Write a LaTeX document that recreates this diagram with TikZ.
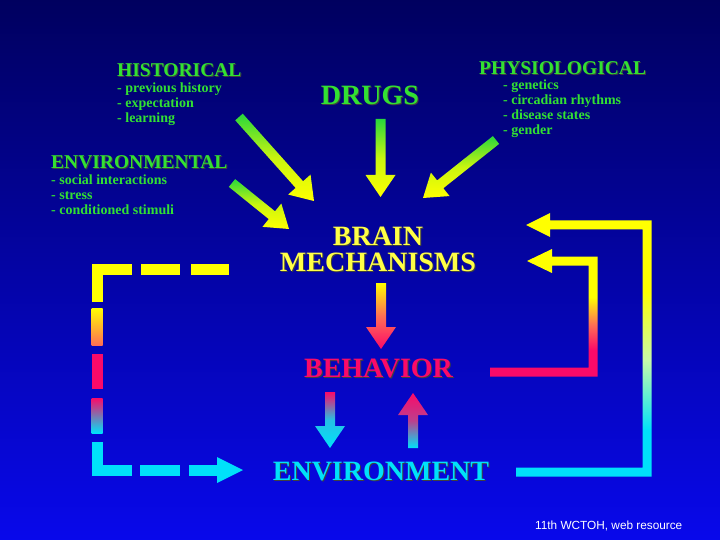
\documentclass[tikz,border=0pt]{standalone}
\usepackage{fontspec}
\setmainfont{Liberation Serif}
\newfontfamily\capfont{Liberation Sans}
\usetikzlibrary{positioning, calc}

\definecolor{bgtop}{RGB}{0,0,95}
\definecolor{bgmid}{RGB}{0,0,205}
\definecolor{bgbot}{RGB}{8,8,235}
\definecolor{txtgreen}{RGB}{50,225,50}
\definecolor{arrgreen}{RGB}{40,215,60}
\definecolor{arryellow}{RGB}{255,255,0}
\definecolor{brainyellow}{RGB}{255,255,70}
\definecolor{hotpink}{RGB}{250,10,105}
\definecolor{envcyan}{RGB}{0,225,250}
\definecolor{paleyel}{RGB}{200,250,170}
\definecolor{warmpink}{RGB}{255,110,85}

% loop shadings (path box = 25bp..75bp)
\pgfdeclareverticalshading{innerloop}{100bp}{color(0bp)=(hotpink);
  color(35.4bp)=(hotpink); color(45.2bp)=(warmpink);
  color(56.2bp)=(arryellow); color(100bp)=(arryellow)}
\pgfdeclareverticalshading{outerloop}{100bp}{color(0bp)=(envcyan);
  color(33.8bp)=(envcyan); color(47.1bp)=(paleyel);
  color(60.2bp)=(arryellow); color(100bp)=(arryellow)}

\newcommand\shd[1]{\makebox[0pt][l]{\color{black!75}\raisebox{-1pt}{\kern1pt #1}}#1}
\newcommand\itemlist[1]{\begin{tabular}[t]{@{}l@{}}#1\end{tabular}}
\newcommand\itemmid[1]{\begin{tabular}[t]{@{}c@{}}#1\end{tabular}}
\newcommand\fatarrow[3]{%
  \coordinate (fa-h) at ($(#3)!22pt!(#2)$);%
  \shade[#1] ($(#2)!5pt!90:(#3)$) -- ($(fa-h)!5pt!-90:(#2)$) --
  ($(fa-h)!15pt!-90:(#2)$) -- (#3) -- ($(fa-h)!15pt!90:(#2)$) --
  ($(fa-h)!5pt!90:(#2)$) -- ($(#2)!5pt!-90:(#3)$) -- cycle;%
}

\tikzset{
  heading/.style={anchor=base west, inner sep=0pt, text=txtgreen,
    font=\fontsize{19.5}{22}\selectfont\bfseries},
  items/.style={anchor=base west, inner sep=0pt, text=txtgreen,
    font=\fontsize{14}{15}\selectfont\bfseries},
  bigword/.style={anchor=base, inner sep=0pt,
    font=\fontsize{28}{26}\selectfont\bfseries},
  greenshade/.style={top color=arrgreen, bottom color=arryellow,
    middle color=arryellow!75!arrgreen},
}

\begin{document}
\begin{tikzpicture}[x=1pt, y=-1pt]
    \useasboundingbox (0,0) rectangle (720,540);%
    \shade [top color=bgtop, middle color=bgmid, bottom color=bgbot] (0,0)
    rectangle (720,540);%

    % Influences
    \node [heading] (hist) at (117,77) {\shd{HISTORICAL}};%
    \node [items] (hist-list) at (117,92.5) {\itemlist{- previous history\\
      - expectation\\ - learning}};%
    \node [heading] (envl) at (51,169) {\shd{ENVIRONMENTAL}};%
    \node [items] (envl-list) at (51,185) {\itemlist{- social interactions\\
      - stress\\ - conditioned stimuli}};%
    \node [heading] (phys) at (479,75) {\shd{PHYSIOLOGICAL}};%
    \node [items] (phys-list) at (503,90) {\itemlist{- genetics\\
      - circadian rhythms\\ - disease states\\ - gender}};%
    \node [bigword, text=txtgreen] (drugs) at (370,105) {\shd{DRUGS}};%

    % Centre column
    \node [bigword, text=brainyellow] (brain) at (378,245)
    {\itemmid{\shd{BRAIN}\\ \shd{MECHANISMS}}};%
    \node [bigword, text=hotpink] (behav) at (378.5,377.5) {\shd{BEHAVIOR}};%
    \node [bigword, text=envcyan] (env) at (381,480) {\shd{ENVIRONMENT}};%

    % Credit
    \node [anchor=base west, inner sep=0pt, text=white,
    font=\capfont\fontsize{11.8}{13}\selectfont] (credit) at (535,529)
    {11th WCTOH, web resource};%

    % arrows into brain
    \coordinate (hist-tail) at (239,117);%
    \coordinate (hist-tip) at (314,201);%
    \coordinate (envl-tail) at (232,183);%
    \coordinate (envl-tip) at (289,229);%
    \coordinate (drugs-tail) at (380.5,119);%
    \coordinate (drugs-tip) at (380.5,197);%
    \coordinate (phys-tail) at (496,140);%
    \coordinate (phys-tip) at (423,198);%
    \fatarrow{greenshade}{hist-tail}{hist-tip}%
    \fatarrow{greenshade}{envl-tail}{envl-tip}%
    \fatarrow{greenshade}{drugs-tail}{drugs-tip}%
    \fatarrow{greenshade}{phys-tail}{phys-tip}%

    % arrows down the middle
    \coordinate (brain-out) at (381,283);%
    \coordinate (behav-in) at (381,349);%
    \coordinate (behav-out) at (330,392);%
    \coordinate (env-in) at (330,448);%
    \coordinate (env-out) at (413,448);%
    \coordinate (behav-up) at (413,393);%
    \fatarrow{top color=arryellow, bottom color=hotpink,
      middle color=warmpink}{brain-out}{behav-in}%
    \fatarrow{top color=hotpink, bottom color=envcyan,
      middle color=envcyan!85!hotpink}{behav-out}{env-in}%
    \fatarrow{top color=hotpink, bottom color=envcyan,
      middle color=hotpink!75!envcyan}{env-out}{behav-up}%

    % -- loop behavior -> brain
    \shade [shading=innerloop] (490,367.5) -- (588.5,367.5) -- (588.5,265.5)
    -- (552,265.5) -- (552,273) -- (527,261) -- (552,249) -- (552,256.5) --
    (597.5,256.5) -- (597.5,376.5) -- (490,376.5) -- cycle;%

    % -- loop environment -> brain
    \shade [shading=outerloop] (516,467.5) -- (642.5,467.5) -- (642.5,229.5)
    -- (550,229.5) -- (550,237) -- (526,225) -- (550,213) -- (550,220.5) --
    (651.5,220.5) -- (651.5,476.5) -- (516,476.5) -- cycle;%

    % -- dashed loop brain -> environment
    \draw [arryellow, line width=11pt] (97,302) |- (132,269);%
    \draw [arryellow, line width=11pt] (141,269) -- (180,269);%
    \draw [arryellow, line width=11pt] (191,269) -- (229,269);%
    \shade [top color=arryellow, bottom color=warmpink] (91.5,308)
    rectangle (102.5,345);%
    \fill [hotpink] (91.5,354) rectangle (102.5,389);%
    \shade [top color=hotpink, bottom color=envcyan] (91.5,398)
    rectangle (102.5,433);%
    \draw [envcyan, line width=11pt] (97,442) |- (132,470);%
    \draw [envcyan, line width=11pt] (140,470) -- (180,470);%
    \draw [envcyan, line width=11pt] (189,470) -- (218,470);%
    \fill [envcyan] (217,457) -- (243,470) -- (217,483) -- cycle;%
  \end{tikzpicture}
\end{document}
